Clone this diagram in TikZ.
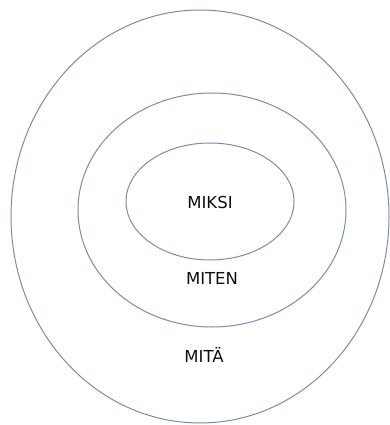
\documentclass[tikz,border=0pt]{standalone}
\usepackage{fontspec}
\setmainfont{DejaVu Sans}
\usepackage{tikz}
\definecolor{ringblue}{RGB}{125,138,172}
\definecolor{labelgray}{RGB}{15,15,15}

\begin{document}
\begin{tikzpicture}[x=1pt,y=-1pt,
    ring/.style={ringblue,line width=1pt},
    word/.style={labelgray,font=\fontsize{16.5}{19}\selectfont}]
    \useasboundingbox (0,0) rectangle (390,425);
    \draw [ring](200,216.5) ellipse (189 and 206.5);
    \draw [ring](212,210) ellipse (134 and 117);
    \draw [ring](210,201.5) ellipse (84 and 58.5);
    \node[word] (miksi) at (210,202) {MIKSI};
    \node[word] (miten) at (212,278) {MITEN};
    \node[word] (mita) at (204,355) {MITÄ};
\end{tikzpicture}
\end{document}
